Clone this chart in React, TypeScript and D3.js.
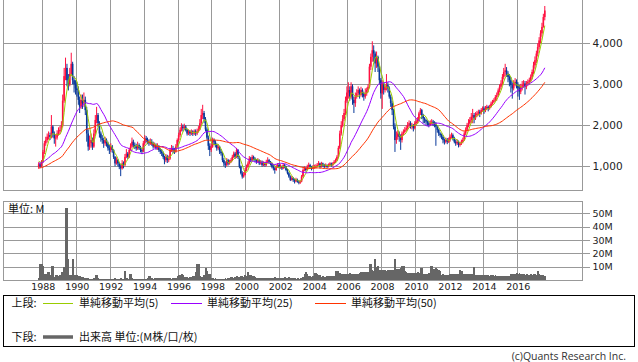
import * as d3 from "d3";

// monthly data, first month = Oct 1987
const firstYear = 1987;
const firstMonth = 9;

// closes before the visible window, only used to seed the moving averages (Sep 1983 - Sep 1987)
const priorCloses = [
  760, 780, 800, 790,
  810, 830, 820, 850, 840, 800, 790, 820, 840, 860, 850, 870,
  860, 880, 870, 850, 860, 880, 900, 890, 870, 900, 920, 950,
  980, 1000, 1050, 1080, 1040, 1060, 1100, 1150, 1080, 1020, 1050, 1080,
  1120, 1150, 1200, 1180, 1150, 1100, 1130, 1180, 1150,
];

const closes = [
  1050, 1000, 1100,
  1350, 1560, 1640, 1720, 1760, 1720, 1970, 1800, 1680, 1700, 1800, 1850,
  1890, 2000, 2600, 3200, 3400, 3100, 3000, 3250, 3500, 3100, 3000, 2900,
  2860, 2620, 2460, 2620, 2540, 2620, 2370, 1800, 1480, 1560, 1640, 1480,
  1800, 2130, 2250, 2050, 1800, 1680, 1640, 1560, 1640, 1560, 1440, 1400,
  1480, 1400, 1230, 1070, 1150, 1070, 990, 950, 1070, 1030, 1230, 1310,
  1230, 1400, 1480, 1600, 1520, 1480, 1440, 1520, 1440, 1400, 1360, 1560,
  1680, 1640, 1600, 1560, 1600, 1560, 1480, 1520, 1440, 1480, 1400, 1360,
  1320, 1230, 1150, 1230, 1150, 1190, 1400, 1440, 1400, 1360, 1480, 1640,
  1760, 1890, 1970, 1930, 1970, 1890, 1800, 1850, 1800, 1850, 1800, 1850,
  1800, 1850, 1900, 2050, 2250, 2300, 2150, 1900, 1700, 1500, 1400, 1480,
  1640, 1600, 1520, 1440, 1480, 1360, 1320, 1150, 1070, 1030, 1150, 1070,
  1110, 1150, 1230, 1310, 1230, 1400, 1230, 990, 830, 750, 790, 910,
  990, 1070, 1190, 1150, 1230, 1190, 1150, 1110, 1150, 1070, 1110, 1030,
  1070, 1030, 1110, 1150, 1110, 1070, 990, 950, 910, 990, 1030, 990,
  990, 950, 1030, 990, 910, 830, 750, 670, 710, 670, 630, 670,
  630, 600, 630, 750, 910, 950, 910, 990, 1030, 990, 950, 990,
  990, 990, 1030, 1070, 990, 1070, 1030, 990, 1030, 990, 1030, 1070,
  1030, 1070, 1110, 1150, 1230, 1450, 1800, 2000, 2150, 2300, 2600, 2800,
  2860, 2700, 2950, 2620, 2540, 2700, 2780, 2860, 2740, 2860, 2780, 2700,
  2780, 2860, 2940, 3430, 3670, 3830, 3750, 3510, 3670, 3430, 3100, 2780,
  3020, 2860, 2940, 2980, 2900, 2700, 2540, 2370, 1970, 1640, 1720, 1800,
  1720, 1640, 1800, 1840, 1890, 1930, 2010, 2050, 1970, 2010, 1930, 2050,
  2090, 2130, 2290, 2370, 2250, 2170, 2130, 2090, 2050, 2010, 2050, 2090,
  2050, 2010, 1970, 1890, 1800, 1760, 1720, 1640, 1600, 1640, 1600, 1640,
  1720, 1760, 1680, 1600, 1560, 1600, 1520, 1560, 1600, 1640, 1800, 1890,
  2010, 2050, 2130, 2210, 2250, 2170, 2250, 2290, 2330, 2290, 2370, 2410,
  2370, 2410, 2450, 2410, 2450, 2530, 2570, 2610, 2690, 2730, 2850, 2940,
  3020, 3180, 3300, 3340, 3260, 3180, 3100, 2980, 2900, 3020, 3060, 2980,
  2900, 2820, 2940, 2980, 3020, 2940, 3020, 3060, 3100, 3180, 3300, 3460,
  3590, 3750, 3910, 4070, 4240, 4400, 4640, 4800,
];

const highs = [
  1100, 1080, 1150,
  1400, 1620, 1720, 1800, 1850, 1820, 2250, 2000, 1850, 1780, 1880, 1950,
  1980, 2100, 2750, 3400, 3650, 3500, 3250, 3400, 3770, 3550, 3200, 3100,
  3050, 2950, 2700, 2750, 2750, 2800, 2700, 2450, 1900, 1750, 1800, 1700,
  1900, 2250, 2450, 2300, 2100, 1850, 1760, 1700, 1720, 1680, 1600, 1520,
  1560, 1520, 1420, 1250, 1220, 1180, 1100, 1050, 1150, 1120, 1300, 1420,
  1350, 1450, 1560, 1700, 1650, 1580, 1550, 1600, 1560, 1500, 1460, 1620,
  1760, 1740, 1700, 1660, 1680, 1660, 1600, 1580, 1560, 1560, 1520, 1450,
  1420, 1360, 1260, 1300, 1280, 1260, 1450, 1520, 1500, 1450, 1540, 1680,
  1820, 1950, 2050, 2020, 2040, 2000, 1920, 1900, 1880, 1900, 1880, 1900,
  1900, 1920, 1980, 2150, 2400, 2500, 2350, 2200, 1950, 1750, 1560, 1560,
  1700, 1680, 1640, 1560, 1540, 1500, 1420, 1350, 1200, 1120, 1200, 1180,
  1160, 1200, 1280, 1360, 1350, 1450, 1420, 1260, 1020, 880, 860, 960,
  1040, 1120, 1250, 1230, 1280, 1260, 1220, 1180, 1200, 1170, 1150, 1140,
  1120, 1100, 1160, 1220, 1180, 1130, 1090, 1030, 980, 1040, 1080, 1060,
  1050, 1020, 1080, 1060, 1010, 940, 860, 780, 760, 740, 700, 720,
  700, 660, 670, 790, 950, 1000, 980, 1040, 1090, 1060, 1010, 1030,
  1040, 1050, 1080, 1130, 1090, 1110, 1090, 1060, 1070, 1050, 1070, 1100,
  1090, 1100, 1150, 1190, 1270, 1500, 1870, 2100, 2250, 2400, 2700, 2950,
  3050, 2950, 3050, 3000, 2700, 2800, 2880, 2950, 2900, 2940, 2900, 2820,
  2900, 2920, 3000, 3500, 3750, 4050, 3950, 3800, 3800, 3700, 3450, 3150,
  3100, 3050, 3000, 3250, 3050, 2950, 2750, 2600, 2400, 2050, 1850, 1880,
  1850, 1780, 1850, 1900, 1960, 2000, 2080, 2120, 2100, 2060, 2030, 2100,
  2150, 2200, 2330, 2420, 2400, 2280, 2200, 2150, 2120, 2100, 2120, 2150,
  2130, 2100, 2080, 2000, 1920, 1830, 1800, 1760, 1680, 1700, 1690, 1700,
  1780, 1820, 1800, 1720, 1650, 1660, 1630, 1600, 1650, 1700, 1850, 1950,
  2060, 2150, 2200, 2300, 2400, 2300, 2320, 2350, 2380, 2380, 2420, 2460,
  2460, 2470, 2500, 2480, 2500, 2580, 2620, 2660, 2740, 2800, 2900, 3000,
  3100, 3250, 3400, 3500, 3420, 3320, 3250, 3180, 3050, 3100, 3150, 3120,
  3050, 2980, 3010, 3080, 3100, 3080, 3080, 3120, 3160, 3240, 3360, 3550,
  3680, 3820, 4000, 4150, 4320, 4500, 4720, 4910,
];

const lows = [
  940, 960, 980,
  1080, 1300, 1500, 1580, 1650, 1640, 1680, 1700, 1550, 1480, 1650, 1750,
  1780, 1850, 1950, 2550, 3100, 2950, 2850, 2950, 3200, 3000, 2800, 2750,
  2700, 2500, 2300, 2400, 2400, 2450, 2250, 1600, 1380, 1400, 1450, 1400,
  1450, 1750, 2050, 1950, 1700, 1600, 1550, 1450, 1500, 1480, 1380, 1300,
  1350, 1330, 1180, 1000, 1040, 1000, 930, 760, 920, 950, 1000, 1200,
  1180, 1200, 1380, 1450, 1460, 1420, 1380, 1400, 1400, 1340, 1300, 1340,
  1520, 1580, 1540, 1500, 1520, 1500, 1430, 1450, 1400, 1400, 1350, 1300,
  1250, 1180, 1050, 1100, 1080, 1100, 1160, 1350, 1320, 1300, 1330, 1450,
  1600, 1720, 1850, 1850, 1880, 1850, 1750, 1760, 1740, 1760, 1740, 1760,
  1740, 1760, 1820, 1880, 2000, 2150, 2050, 1850, 1650, 1400, 1250, 1350,
  1450, 1520, 1460, 1380, 1400, 1300, 1260, 1100, 1000, 960, 1000, 1020,
  1040, 1080, 1120, 1200, 1180, 1200, 1180, 950, 800, 700, 720, 780,
  880, 960, 1040, 1100, 1120, 1140, 1100, 1060, 1080, 1030, 1040, 990,
  1000, 990, 1000, 1080, 1060, 1020, 950, 900, 820, 890, 960, 950,
  940, 910, 930, 950, 880, 800, 720, 640, 650, 620, 580, 610,
  600, 560, 570, 610, 730, 880, 870, 900, 960, 950, 900, 930,
  940, 950, 970, 1010, 950, 970, 990, 950, 970, 950, 970, 1010,
  990, 1000, 1050, 1080, 1130, 1200, 1420, 1750, 1950, 2100, 2250, 2550,
  2650, 2600, 2650, 2500, 2300, 2450, 2650, 2720, 2650, 2700, 2680, 2600,
  2650, 2720, 2800, 2900, 3350, 3550, 3550, 3300, 3400, 3300, 3000, 2650,
  2400, 2750, 2800, 2850, 2800, 2650, 2450, 2250, 1900, 1350, 1550, 1650,
  1600, 1400, 1580, 1750, 1800, 1850, 1880, 1950, 1920, 1900, 1850, 1900,
  2000, 2040, 2100, 2250, 2150, 2050, 2050, 2000, 1990, 1950, 1980, 2020,
  1980, 1950, 1500, 1820, 1740, 1700, 1660, 1560, 1530, 1560, 1540, 1570,
  1600, 1680, 1630, 1560, 1500, 1520, 1460, 1480, 1520, 1560, 1620, 1760,
  1850, 1950, 2020, 2080, 2050, 2050, 2130, 2200, 2240, 2200, 2260, 2330,
  2280, 2320, 2370, 2340, 2380, 2430, 2500, 2540, 2590, 2600, 2700, 2800,
  2880, 2980, 3120, 3200, 3180, 3050, 2950, 2800, 2650, 2850, 2950, 2900,
  2700, 2620, 2760, 2850, 2920, 2750, 2880, 2960, 2990, 3050, 3120, 3250,
  3380, 3520, 3680, 3850, 4000, 4160, 4380, 4560,
];

// monthly volume, millions of shares
const volumes = [
  2, 12.5, 12,
  11, 5, 5, 6, 6, 4, 11, 11, 2.5, 4, 4, 3,
  4, 6, 6, 10, 54, 54, 16, 4, 4, 16, 4, 4,
  4, 3, 3, 2.5, 2.5, 2, 1.5, 2, 1.5, 1.2, 1.2, 1.2,
  2, 4, 4, 2, 1.2, 1.2, 1, 1, 1.2, 1, 1, 1,
  1, 1.2, 1, 1.5, 1, 1, 1.2, 1.5, 1, 1.2, 7, 1.5,
  1.2, 5, 5, 1.5, 1.2, 1.2, 1, 1.2, 1, 1.2, 1, 1.2,
  1.2, 1.2, 1.5, 3, 3, 1.5, 1.2, 1.8, 1.8, 1.5, 1.8, 1.5,
  1.8, 1.8, 1.5, 1.8, 1.5, 1.8, 1.5, 1.2, 1.5, 1.5, 1.8, 3,
  3.8, 3.8, 4.5, 3.8, 2.5, 2.5, 2.5, 1.8, 2.5, 2.5, 3.5, 3,
  6, 12, 12, 3, 2.5, 2.5, 4, 9, 7, 5, 5, 2,
  1.5, 1.2, 1.5, 1.2, 1, 1.2, 1, 1.2, 1.2, 1.5, 1.2, 1.5,
  1.8, 2.5, 2.5, 1.8, 2.5, 3, 2.5, 2.5, 3, 3.5, 2.5, 4,
  3.5, 6, 4, 3.8, 3.5, 3, 2.5, 1.8, 1.5, 1.8, 1.5, 1.5,
  1.5, 1.8, 1.8, 2, 1.8, 1.5, 1.5, 1.8, 2.5, 1.8, 1.5, 1.8,
  1.8, 2, 1.8, 2.5, 1.8, 1.8, 2.5, 1.5, 1.8, 1.5, 1.5, 1.2,
  1.5, 1.2, 1.5, 1.8, 2.5, 5, 6, 5, 3, 3, 2.5, 3,
  5.8, 5.8, 5, 3.8, 3.8, 2.5, 3, 2.5, 2.5, 3, 3, 3,
  3, 3, 3, 6.8, 6.8, 6.8, 5.5, 5, 5, 5, 4.5, 5,
  5, 5.2, 4.8, 5, 5, 4.5, 5, 4.5, 5.5, 6, 6, 6,
  6, 6, 6.5, 12.5, 12.5, 8, 7, 16, 10, 11, 7.5, 7.5,
  7.5, 7.5, 7.5, 7, 7.5, 7.5, 8, 7.5, 8, 16, 8.8, 8.8,
  8.8, 9, 11, 11, 7, 6, 5.8, 5.8, 5.8, 5.5, 5.8, 5.5,
  5.5, 6, 5.8, 9, 9, 5, 5, 5, 4.8, 5.5, 10.5, 10.5,
  8.8, 8.8, 9.5, 8.8, 8, 7, 4.2, 4.5, 4.2, 4, 4.2, 4,
  4.5, 5, 5, 5, 5, 5, 4.5, 7.5, 7, 4.5, 4.5, 4.5,
  4.5, 4.5, 4.5, 4.5, 4.5, 10, 4.2, 4.2, 4, 3.8, 4.2, 4,
  3.8, 3.8, 3.8, 3.8, 3.5, 3.8, 3.8, 3.5, 3.8, 3.2, 3.2, 3.2,
  3.2, 3, 3.2, 3.5, 3.2, 3, 3.2, 5, 5, 4.8, 5, 5.2,
  5, 5.5, 5, 5, 4.5, 4.2, 4.5, 4.2, 4.2, 4.5, 4.2, 4.5,
  4.5, 4, 6.8, 5, 4, 3.8, 3.8, 3.5,
];

const yearTicks = [1988, 1990, 1992, 1994, 1996, 1998, 2000, 2002, 2004, 2006, 2008, 2010, 2012, 2014, 2016];
const priceTicks = [1000, 2000, 3000, 4000];
const volumeTicks = [10, 20, 30, 40, 50];
const maPeriods = [5, 25, 50];
const maColors = ["#99cc00", "#9900ff", "#ff3300"];
const maLabels = ["単純移動平均(5)", "単純移動平均(25)", "単純移動平均(50)"];

const UP = "#ff1040";
const DOWN = "#08389a";
const GRID = "#999";
const JP = "'Noto Sans CJK JP', 'DejaVu Sans', sans-serif";

export default function App() {
  const left = 3.5, right = 582.5;
  const top1 = 0, bottom1 = 190.5;
  const top2 = 201.5, bottom2 = 280.5;

  const x = d3.scaleTime()
    .domain([new Date(1988, 0, 1), new Date(2016, 0, 1)])
    .range([42.3, 517.3]);
  const y = d3.scaleLinear().domain([1000, 4000]).range([166.3, 43.3]);
  const yv = d3.scaleLinear().domain([0, 50]).range([280.3, 213.8]);

  const mid = (i: number) => x(new Date(firstYear, firstMonth + i, 15));
  const all = priorCloses.concat(closes);
  const off = priorCloses.length;

  const candles = closes.map((c, i) => {
    const o = i === 0 ? 980 : closes[i - 1];
    return {
      cx: mid(i),
      o, c,
      h: Math.max(highs[i], o, c),
      l: Math.min(lows[i], o, c),
    };
  });

  const maLines = maPeriods.map((n) => {
    const vals = closes.map((_, i) => d3.mean(all.slice(off + i - n + 1, off + i + 1)) as number);
    const line = d3.line<number>().x((_, i) => mid(i)).y((d) => y(d));
    return line(vals) || "";
  });

  const bars = volumes.map((v, i) => {
    const x0 = x(new Date(firstYear, firstMonth + i, 1));
    const x1 = x(new Date(firstYear, firstMonth + i + 1, 1));
    return { x: x0, w: x1 - x0 + 0.35, y: yv(v), h: yv(0) - yv(v) };
  });

  return (
    <svg width={638} height={362} style={{ position: "absolute", left: 0, top: 0 }}
      fontFamily="'DejaVu Sans', sans-serif">
      <rect x={0} y={0} width={638} height={362} fill="#fff" />

      {/* price panel grid */}
      <g stroke={GRID} strokeWidth={1} shapeRendering="crispEdges">
        {yearTicks.map((yr) => (
          <line key={"v" + yr} x1={x(new Date(yr, 0, 1))} x2={x(new Date(yr, 0, 1))} y1={top1} y2={bottom1} />
        ))}
        {priceTicks.map((p) => (
          <line key={"h" + p} x1={left} x2={right + 7} y1={y(p)} y2={y(p)} />
        ))}
        <line x1={left} x2={left} y1={top1} y2={bottom1} />
        <line x1={right} x2={right} y1={top1} y2={bottom1} />
        <line x1={left} x2={right} y1={bottom1} y2={bottom1} />
      </g>

      {/* candles */}
      <g>
        {candles.map((d, i) => {
          const col = d.c >= d.o ? UP : DOWN;
          const yTop = y(Math.max(d.o, d.c));
          const yBot = y(Math.min(d.o, d.c));
          return (
            <g key={i}>
              <line x1={d.cx} x2={d.cx} y1={y(d.h)} y2={y(d.l)} stroke={col} strokeWidth={1} />
              <rect x={d.cx - 0.8} y={yTop} width={1.6} height={Math.max(1, yBot - yTop)} fill={col} />
            </g>
          );
        })}
      </g>

      {/* moving averages */}
      {maLines.map((d, k) => (
        <path key={k} d={d} fill="none" stroke={maColors[k]} strokeWidth={1} />
      ))}

      {/* price labels */}
      {priceTicks.map((p) => (
        <text key={p} x={592.5} y={y(p) + 3.8} fontSize={10.5} fill="#222">
          {d3.format(",")(p)}
        </text>
      ))}

      {/* volume panel */}
      <g stroke={GRID} strokeWidth={1} shapeRendering="crispEdges">
        {yearTicks.map((yr) => (
          <line key={"vv" + yr} x1={x(new Date(yr, 0, 1))} x2={x(new Date(yr, 0, 1))} y1={top2} y2={bottom2} />
        ))}
        {volumeTicks.map((v) => (
          <line key={"vh" + v} x1={left} x2={right + 7} y1={yv(v)} y2={yv(v)} />
        ))}
        <rect x={left} y={top2} width={right - left} height={bottom2 - top2} fill="none" />
      </g>
      <g fill="#666" shapeRendering="crispEdges">
        {bars.map((b, i) => (
          <rect key={i} x={b.x} y={b.y} width={b.w} height={b.h} />
        ))}
      </g>
      <text x={8} y={213} fontSize={11} fontFamily={JP} fill="#111">単位: M</text>
      {volumeTicks.map((v) => (
        <text key={v} x={592.5} y={yv(v) + 3.3} fontSize={9.5} fill="#222">{v}M</text>
      ))}

      {/* year labels */}
      {yearTicks.map((yr) => (
        <text key={yr} x={x(new Date(yr, 0, 1)) + 1} y={290} fontSize={9.5} textAnchor="middle" fill="#222">
          {yr}
        </text>
      ))}

      {/* legend */}
      <rect x={3.5} y={295.5} width={631} height={51} fill="none" stroke="#000" strokeWidth={1} shapeRendering="crispEdges" />
      <g fontFamily={JP} fontSize={11} fill="#111">
        <text x={11.5} y={307}>上段:</text>
        <line x1={43} x2={73} y1={303.5} y2={303.5} stroke={maColors[0]} strokeWidth={1} />
        <text x={79} y={307}>{maLabels[0]}</text>
        <line x1={171} x2={202} y1={303.5} y2={303.5} stroke={maColors[1]} strokeWidth={1} />
        <text x={207} y={307}>{maLabels[1]}</text>
        <line x1={315} x2={346} y1={303.5} y2={303.5} stroke={maColors[2]} strokeWidth={1} />
        <text x={351} y={307}>{maLabels[2]}</text>

        <text x={11.5} y={341}>下段:</text>
        <line x1={43} x2={73} y1={337} y2={337} stroke="#666" strokeWidth={3.5} />
        <text x={79} y={341}>出来高 単位:(M株/口/枚)</text>
      </g>
      <text x={626} y={359.5} fontSize={10.5} textAnchor="end" fill="#333"
        fontFamily="'Open Sans', 'DejaVu Sans', sans-serif">
        (c)Quants Research Inc.
      </text>
    </svg>
  );
}
